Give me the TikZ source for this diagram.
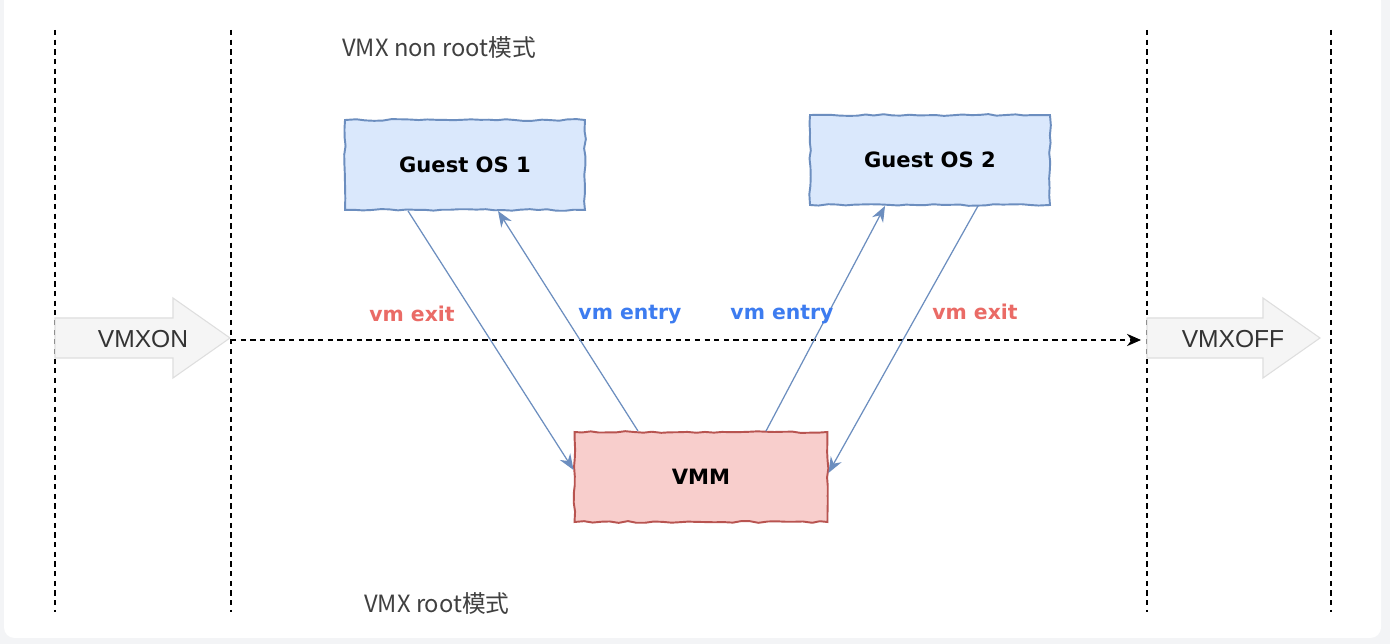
\documentclass[tikz,border=0pt]{standalone}
\usepackage{fontspec}
\setmainfont{Liberation Sans}
\newfontfamily\cjk{Noto Sans CJK SC}
\newfontfamily\hand{DejaVu Sans}
\usetikzlibrary{arrows.meta,decorations.pathmorphing,calc}
\definecolor{osfill}{HTML}{DAE8FC}
\definecolor{osline}{HTML}{6C8EBF}
\definecolor{vmmfill}{HTML}{F8CECC}
\definecolor{vmmline}{HTML}{B85450}
\definecolor{exitred}{HTML}{EA6B66}
\definecolor{entryblue}{HTML}{3D7CF0}
\definecolor{arrowgray}{HTML}{F5F5F5}
\definecolor{pagegray}{HTML}{F3F4F6}
\tikzset{
  sketchbox/.style={draw, line width=1.1pt, minimum width=4.8cm, minimum height=1.8cm,
    decorate, decoration={random steps, segment length=5pt, amplitude=0.5pt},
    font=\hand\bfseries\fontsize{12}{14}\selectfont},
  osbox/.style={sketchbox, fill=osfill, draw=osline},
  vmmbox/.style={sketchbox, fill=vmmfill, draw=vmmline, minimum width=5.06cm},
  vmlink/.style={draw=osline, line width=0.7pt, -{Stealth[length=9pt,width=7pt]}},
  vmlabel/.style={font=\hand\bfseries\fontsize{11.6}{13}\selectfont},
  modelabel/.style={anchor=west, text=black!75, font=\cjk\fontsize{13.5}{15}\selectfont},
  blockarrow/.style={fill=arrowgray, draw=black!13, line width=0.6pt},
  border/.style={dashed, dash pattern=on 3pt off 2.5pt, line width=0.6pt}
}
\begin{document}
\begin{tikzpicture}[x=0.02cm, y=-0.02cm]
  \pgfmathsetseed{7}
  \useasboundingbox (0,0) rectangle (1390,644);
  % page
  \fill[pagegray] (0,0) rectangle (1390,644);
  \fill[white, rounded corners=6pt] (4,-10) rectangle (1381,638);
  % mode borders
  \foreach \x in {55, 231, 1147, 1331}
    \draw[border] (\x,30) -- (\x,612);
  \node[modelabel] (nonroot) at (336,48) {VMX non root模式};
  \node[modelabel] (root) at (358,604) {VMX root模式};
  % VMXON / VMXOFF
  \draw[blockarrow] (55,318) -- (173,318) -- (173,298) -- (230,338)
    -- (173,378) -- (173,358) -- (55,358) -- cycle;
  \draw[blockarrow] (1147,318) -- (1263,318) -- (1263,298) -- (1320,338)
    -- (1263,378) -- (1263,358) -- (1147,358) -- cycle;
  \node[text=black!80, font=\fontsize{14}{16}\selectfont] (vmxon) at (143,339) {VMXON};
  \node[text=black!80, font=\fontsize{14}{16}\selectfont] (vmxoff) at (1233,339) {VMXOFF};
  \coordinate (start) at (231,340);
  \coordinate (stop) at (1141,340);
  \draw[border, -{Stealth[length=8pt,width=7pt]}] (start) -- (stop);
  % boxes
  \node[osbox] (gos1) at (465,165) {Guest OS 1};
  \node[osbox] (gos2) at (930,160) {Guest OS 2};
  \node[vmmbox] (vmm) at (701,477) {VMM};
  % transitions
  \draw[vmlink] ([xshift=-1.14cm]gos1.south) -- ([yshift=0.14cm]vmm.west);
  \draw[vmlink] ([xshift=-1.26cm]vmm.north) -- ([xshift=0.66cm]gos1.south);
  \draw[vmlink] ([xshift=1.3cm]vmm.north) -- ([xshift=-0.9cm]gos2.south);
  \draw[vmlink] ([xshift=0.96cm]gos2.south) -- ([yshift=0.08cm]vmm.east);
  \node[vmlabel, text=exitred] (exit1) at (412,314) {vm exit};
  \node[vmlabel, text=entryblue] (entry1) at (630,315) {vm entry};
  \node[vmlabel, text=entryblue] (entry2) at (782,315) {vm entry};
  \node[vmlabel, text=exitred] (exit2) at (975,312) {vm exit};
\end{tikzpicture}
\end{document}
